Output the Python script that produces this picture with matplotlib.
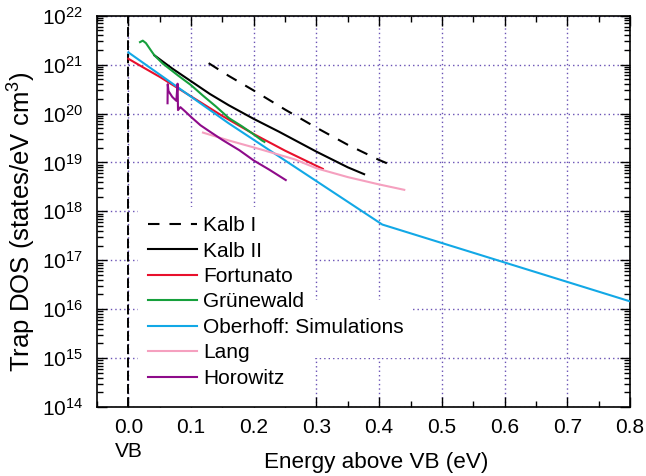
import numpy as np
import matplotlib
matplotlib.use("Agg")
import matplotlib.pyplot as plt
from matplotlib.patches import Rectangle
from matplotlib.ticker import LogLocator, MultipleLocator, NullFormatter, LogFormatterMathtext

plt.rcParams['font.family'] = ['Liberation Sans', 'DejaVu Sans']
plt.rcParams['mathtext.fontset'] = 'custom'
plt.rcParams['mathtext.rm'] = 'Liberation Sans'
plt.rcParams['mathtext.it'] = 'Liberation Sans:italic'
plt.rcParams['mathtext.bf'] = 'Liberation Sans:bold'

# ---- data (energy in eV, log10 of trap DOS) ----
kalb1_x = [0.128, 0.16, 0.20, 0.25, 0.30, 0.35, 0.40, 0.424]
kalb1_log = [21.03, 20.77, 20.47, 20.08, 19.71, 19.36, 19.05, 18.92]

kalb2_x = [0.0415, 0.07, 0.10, 0.13, 0.16, 0.20, 0.24, 0.30, 0.35, 0.376]
kalb2_log = [21.19, 20.92, 20.66, 20.40, 20.17, 19.89, 19.63, 19.22, 18.90, 18.76]

fort_x = [0.0, 0.02, 0.05, 0.10, 0.15, 0.20, 0.25, 0.30, 0.31]
fort_log = [21.12, 20.97, 20.75, 20.35, 19.95, 19.58, 19.24, 18.93, 18.87]

grun_x = [0.0186, 0.023, 0.028, 0.036, 0.0415, 0.055, 0.065, 0.079, 0.10, 0.1186,
          0.14, 0.16, 0.181, 0.197, 0.213, 0.217]
grun_log = [21.46, 21.49, 21.44, 21.29, 21.19, 21.02, 20.92, 20.78, 20.58, 20.37,
            20.14, 19.91, 19.74, 19.60, 19.45, 19.42]

ober_x = [0.0, 0.16, 0.405, 0.80]
ober_log = [21.25, 19.80, 17.73, 16.16]

lang_x = [0.119, 0.16, 0.213, 0.266, 0.30, 0.35, 0.40, 0.44]
lang_log = [19.61, 19.45, 19.26, 19.06, 18.88, 18.70, 18.55, 18.44]

horo_x = [0.0625, 0.0628, 0.0640, 0.0700, 0.0765, 0.0785, 0.0792, 0.083, 0.090,
          0.100, 0.115, 0.130, 0.150, 0.177, 0.200, 0.225, 0.251]
horo_log = [20.21, 20.60, 20.46, 20.34, 20.26, 20.61, 20.07, 20.13, 20.05,
            19.93, 19.76, 19.63, 19.46, 19.25, 19.04, 18.85, 18.64]

series = [
    ("Kalb I", kalb1_x, kalb1_log, "black", (0, (5.5, 4.8))),
    ("Kalb II", kalb2_x, kalb2_log, "black", "-"),
    ("Fortunato", fort_x, fort_log, "#e8102c", "-"),
    ("Grünewald", grun_x, grun_log, "#16a03c", "-"),
    ("Oberhoff: Simulations", ober_x, ober_log, "#12a8e6", "-"),
    ("Lang", lang_x, lang_log, "#f5a0bf", "-"),
    ("Horowitz", horo_x, horo_log, "#8e0b8a", "-"),
]

xticks = [0.0, 0.1, 0.2, 0.3, 0.4, 0.5, 0.6, 0.7, 0.8]
xticklabels = ["0.0\nVB", "0.1", "0.2", "0.3", "0.4", "0.5", "0.6", "0.7", "0.8"]

fig = plt.figure(figsize=(6.46, 4.76), dpi=100)
ax = fig.add_axes([97/646, 1-407/476, 533/646, 391.3/476])
ax.set_yscale('log')
ax.set_xlim(-0.05, 0.8)
ax.set_ylim(1e14, 1e22)
ax.set_axisbelow(True)

grid_color = '#6a52b5'
ax.grid(True, which='major', linestyle=(0, (1, 2.2)), color=grid_color, linewidth=1.0)

# VB line
ax.axvline(0.0, color='black', linestyle=(0, (5, 1.8)), linewidth=1.4, zorder=2.5)

for name, xs, ls, col, sty in series:
    ax.plot(xs, 10.0**np.array(ls), color=col, linestyle=sty, linewidth=1.5, label=name, zorder=3)

ax.set_xticks(xticks)
ax.set_xticklabels(xticklabels, linespacing=1.35)
ax.xaxis.set_minor_locator(MultipleLocator(0.05))
ax.yaxis.set_major_locator(LogLocator(base=10, numticks=20))
ax.yaxis.set_minor_locator(LogLocator(base=10, subs=np.arange(2, 10), numticks=100))
ax.yaxis.set_minor_formatter(NullFormatter())
ax.yaxis.set_major_formatter(LogFormatterMathtext())

ax.tick_params(which='both', direction='in', top=True, right=True, labelsize=15, width=1.0)
ax.tick_params(which='major', length=7)
ax.tick_params(which='minor', length=4)
ax.tick_params(axis='x', which='major', pad=8)
ax.tick_params(axis='y', which='major', pad=10)
for sp in ax.spines.values():
    sp.set_linewidth(1.2)

ax.set_xlabel("Energy above VB (eV)", fontsize=16.2)
ax.xaxis.set_label_coords(0.523, -0.115)
ax.set_ylabel("Trap DOS (states/eV cm$^3$)", fontsize=18.5)
ax.yaxis.set_label_coords(-0.111, 0.473)

# white masks behind legend (hide grid)
ax.add_patch(Rectangle((0.077, 0.0), 0.409 - 0.077, 0.511, transform=ax.transAxes,
                       facecolor='white', edgecolor='none', zorder=1))
ax.add_patch(Rectangle((0.40, 0.125), 0.587 - 0.40, 0.273 - 0.125, transform=ax.transAxes,
                       facecolor='white', edgecolor='none', zorder=1))

leg = ax.legend(loc='upper left', bbox_to_anchor=(0.0957, 0.488), frameon=False,
                fontsize=15, handlelength=2.35, handletextpad=0.3, labelspacing=0.31,
                borderaxespad=0, borderpad=0)
for line in leg.get_lines():
    line.set_linewidth(1.5)

fig.savefig("out.png", dpi=100)
